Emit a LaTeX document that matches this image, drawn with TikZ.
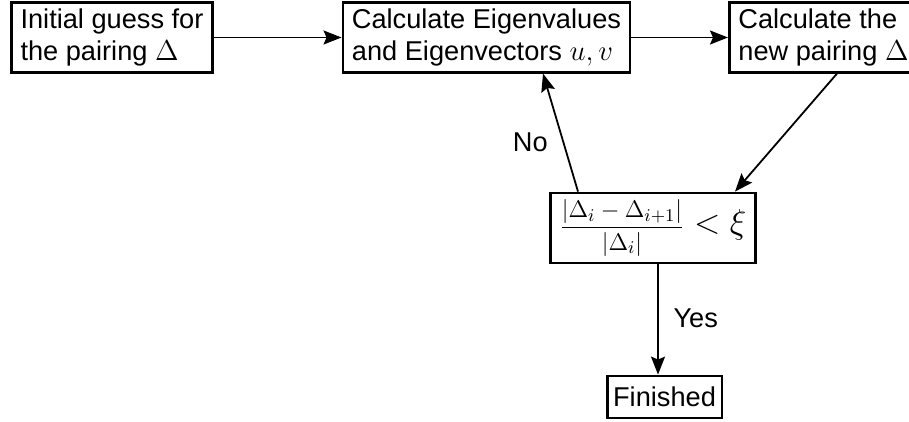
\documentclass[tikz,border=0pt]{standalone}
\usepackage[no-math]{fontspec}
\setmainfont{Liberation Sans}
\usepackage{amsmath}
\usetikzlibrary{arrows.meta,positioning}

\tikzset{
  stepbox/.style={draw, line width=1.4pt, align=left, inner xsep=4.5pt, inner ysep=3pt,
    minimum height=34.5pt, font=\fontsize{13.6}{16}\selectfont},
  flow/.style={-{Stealth[length=9pt, width=7pt, inset=1.5pt]}, line width=0.9pt},
  answer/.style={font=\fontsize{13.6}{16}\selectfont},
}

\begin{document}
\begin{tikzpicture}[x=0.5pt, y=-0.5pt]
	\useasboundingbox (0,0) rectangle (909,422);
	
	% Top row of steps
	\node[stepbox] (guess) at (112,37.5) {Initial guess for\\the pairing $\Delta$};
	\node[stepbox] (eigen) at (486.5,37.5) {Calculate Eigenvalues\\and Eigenvectors $u,v$};
	\node[stepbox, anchor=west] (pairing) at (728,37.5) {Calculate the\\new pairing $\Delta$};
	
	% Convergence check and end
	\node[stepbox, minimum height=35pt, inner ysep=1.5pt, font=\fontsize{17}{20}\selectfont] (check) at (653,228)
	{{\fontsize{12.5}{15}\selectfont$\displaystyle\frac{|\Delta_i-\Delta_{i+1}|}{|\Delta_i|}$}$\;<\xi$};
	\node[stepbox, minimum height=21pt, inner xsep=3pt] (done) at (664.5,397) {Finished};
	
	% Where the slanted and vertical arrows meet the boxes
	\coordinate (newout) at (837,0);
	\coordinate (checkin) at (735,0);
	\coordinate (noout) at (578,0);
	\coordinate (noin) at (543,0);
	\coordinate (yesx) at (658,0);
	
	% Arrows
	\draw[flow] (guess) -- (eigen);
	\draw[flow] (eigen) -- (eigen -| pairing.west);
	\draw[flow] (pairing.south -| newout) -- (check.north -| checkin);
	\draw[flow] (check.north -| noout) -- (eigen.south -| noin)
	node[answer, pos=0.42, left=4pt] {No};
	\draw[flow] (check.south -| yesx) -- (done.north -| yesx)
	node[answer, pos=0.49, right=4pt] {Yes};
\end{tikzpicture}
\end{document}
